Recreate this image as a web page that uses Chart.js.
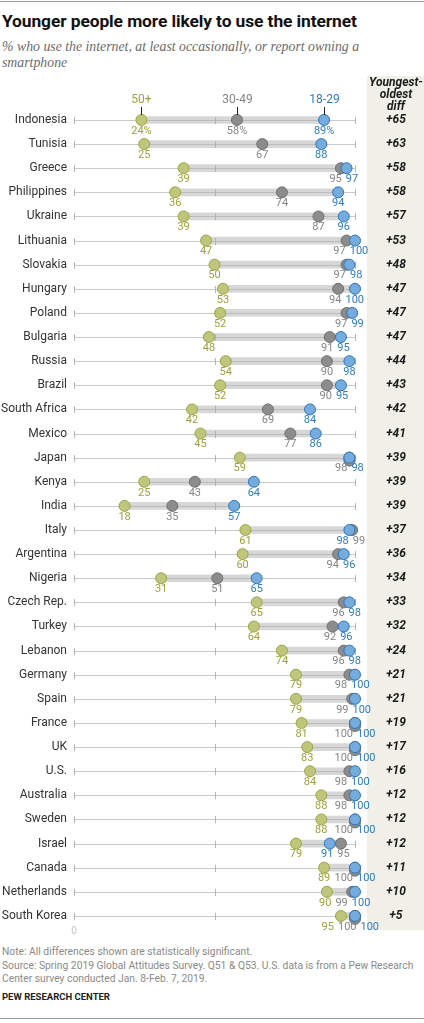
<!DOCTYPE html>
<html>
<head>
<meta charset="utf-8">
<script src="https://cdn.jsdelivr.net/npm/chart.js@4.4.1/dist/chart.umd.min.js"></script>
<style>
  html, body { margin: 0; padding: 0; background: #fff; }
  body { width: 424px; height: 1023px; position: relative; overflow: hidden; font-family: Roboto, "Liberation Sans", sans-serif; }
  .rule { position: absolute; left: 0; width: 424px; height: 1px; background: #9a9a9a; }
  #title { position: absolute; left: 2px; top: 11px; font-size: 17.4px; font-weight: bold; color: #111; white-space: nowrap; letter-spacing: -0.1px; }
  #subtitle { position: absolute; left: 2px; top: 39px; width: 415px; font-family: "Liberation Serif", serif; font-style: italic; font-size: 13.8px; line-height: 16px; color: #6b6b6b; }
  #chartBox { position: absolute; left: 0; top: 75px; width: 424px; height: 870px; }
  #notes { position: absolute; left: 2px; top: 945px; width: 422px; font-size: 10.3px; line-height: 13.5px; color: #8a8a8a; white-space: nowrap; }
  #credit { position: absolute; left: 2px; top: 991px; font-size: 9.5px; font-weight: bold; color: #222; }
</style>
</head>
<body>
<div class="rule" style="top:1px"></div>
<div id="title">Younger people more likely to use the internet</div>
<div id="subtitle">% who use the internet, at least occasionally, or report owning a smartphone</div>
<div id="chartBox"><canvas id="rangos"></canvas></div>
<div id="notes">Note: All differences shown are statistically significant.<br>Source: Spring 2019 Global Attitudes Survey. Q51 &amp; Q53. U.S. data is from a Pew Research<br>Center survey conducted Jan. 8-Feb. 7, 2019.</div>
<div id="credit">PEW RESEARCH CENTER</div>
<div class="rule" style="top:1018px"></div>

<script>
// datos
var paises = ["Indonesia", "Tunisia", "Greece", "Philippines", "Ukraine", "Lithuania", "Slovakia", "Hungary",
    "Poland", "Bulgaria", "Russia", "Brazil", "South Africa", "Mexico", "Japan", "Kenya", "India", "Italy",
    "Argentina", "Nigeria", "Czech Rep.", "Turkey", "Lebanon", "Germany", "Spain", "France", "UK", "U.S.",
    "Australia", "Sweden", "Israel", "Canada", "Netherlands", "South Korea"];
var edad50 = [24, 25, 39, 36, 39, 47, 50, 53, 52, 48, 54, 52, 42, 45, 59, 25, 18, 61, 60, 31, 65, 64, 74, 79, 79, 81, 83, 84, 88, 88, 79, 89, 90, 95];
var edad3049 = [58, 67, 95, 74, 87, 97, 97, 94, 97, 91, 90, 90, 69, 77, 98, 43, 35, 99, 94, 51, 96, 92, 96, 98, 99, 100, 100, 98, 98, 100, 95, 100, 99, 100];
var edad1829 = [89, 88, 97, 94, 96, 100, 98, 100, 99, 95, 98, 95, 84, 86, 98, 64, 57, 98, 96, 65, 98, 96, 98, 100, 100, 100, 100, 100, 100, 100, 91, 100, 100, 100];
var diferencia = [65, 63, 58, 58, 57, 53, 48, 47, 47, 47, 44, 43, 42, 41, 39, 39, 39, 37, 36, 34, 33, 32, 24, 21, 21, 19, 17, 16, 12, 12, 12, 11, 10, 5];
var nombresSerie = ["50+", "30-49", "18-29"];
var ticksX = [0, 50, 100];

var colores = {
    verde: { fill: "#bfc67c", borde: "#9ba443", texto: "#9aa43a" },
    gris: { fill: "#8c8c8c", borde: "#6f6f6f", texto: "#858585" },
    azul: { fill: "#75abdd", borde: "#2b76b7", texto: "#2f7cbf" }
};
var FUENTE = "Roboto, 'Liberation Sans', sans-serif";

var rangos = paises.map(function (p, i) {
    var vals = [edad50[i], edad3049[i], edad1829[i]];
    return [Math.min.apply(null, vals), Math.max.apply(null, vals)];
});

// separa etiquetas que se pisan
function acomodarEtiquetas(items, gap) {
    var grupos = items.map(function (it) { return [it]; });
    var cambio = true;
    function medir(g) {
        var w = 0, c = 0;
        g.forEach(function (it) { w += it.w; c += it.x; });
        w += gap * (g.length - 1);
        c = c / g.length;
        return { left: c - w / 2, right: c + w / 2 };
    }
    while (cambio) {
        cambio = false;
        for (var i = 0; i < grupos.length - 1; i++) {
            var a = medir(grupos[i]), b = medir(grupos[i + 1]);
            if (a.right + gap > b.left) {
                grupos[i] = grupos[i].concat(grupos[i + 1]);
                grupos.splice(i + 1, 1);
                cambio = true;
                break;
            }
        }
    }
    grupos.forEach(function (g) {
        var m = medir(g), pos = m.left;
        g.forEach(function (it) {
            it.px = pos + it.w / 2;
            pos += it.w + gap;
        });
    });
}

var extrasPlugin = {
    id: "extras",
    beforeDraw: function (chart) {
        var ctx = chart.ctx;
        ctx.save();
        ctx.fillStyle = "#f0f0e9";
        ctx.fillRect(367, 1, chart.width - 367, 854);
        ctx.restore();
    },
    beforeDatasetsDraw: function (chart) {
        var ctx = chart.ctx, x = chart.scales.x, y = chart.scales.y;
        ctx.save();
        paises.forEach(function (p, i) {
            var py = Math.round(y.getPixelForValue(i)) + 0.5;
            ctx.strokeStyle = "#c9c9c9";
            ctx.lineWidth = 1;
            ctx.beginPath();
            ctx.moveTo(x.getPixelForValue(0), py);
            ctx.lineTo(x.getPixelForValue(100), py);
            ctx.stroke();
            ctx.strokeStyle = "#b5b5b5";
            ticksX.forEach(function (t) {
                var tx = Math.round(x.getPixelForValue(t)) + 0.5;
                ctx.beginPath();
                ctx.moveTo(tx, py - 3.5);
                ctx.lineTo(tx, py + 3.5);
                ctx.stroke();
            });
        });
        ctx.restore();
    },
    afterDatasetDraw: function (chart, args) {
        // empates gris/azul: el gris asoma un poco abajo
        if (args.index !== 2) return;
        var ctx = chart.ctx, x = chart.scales.x, y = chart.scales.y;
        ctx.save();
        paises.forEach(function (p, i) {
            if (edad3049[i] === edad1829[i]) {
                ctx.beginPath();
                ctx.arc(x.getPixelForValue(edad3049[i]), y.getPixelForValue(i) + 3, 5.5, 0, Math.PI * 2);
                ctx.fillStyle = colores.gris.fill;
                ctx.fill();
                ctx.lineWidth = 1;
                ctx.strokeStyle = colores.gris.borde;
                ctx.stroke();
            }
        });
        ctx.restore();
    },
    afterDatasetsDraw: function (chart) {
        var ctx = chart.ctx, x = chart.scales.x, y = chart.scales.y;
        ctx.save();
        ctx.font = "11px " + FUENTE;
        ctx.textAlign = "center";
        ctx.textBaseline = "middle";
        var series = [
            { datos: edad50, col: colores.verde.texto },
            { datos: edad3049, col: colores.gris.texto },
            { datos: edad1829, col: colores.azul.texto }
        ];
        paises.forEach(function (p, i) {
            var py = y.getPixelForValue(i);
            var items = series.map(function (s, k) {
                var txt = s.datos[i] + (i === 0 ? "%" : "");
                return { v: s.datos[i], k: k, txt: txt, col: s.col, x: x.getPixelForValue(s.datos[i]), w: ctx.measureText(txt).width };
            });
            items.sort(function (a, b) { return a.v - b.v || a.k - b.k; });
            acomodarEtiquetas(items, 4);
            items.forEach(function (it) {
                ctx.fillStyle = it.col;
                ctx.fillText(it.txt, it.px, py + 11);
            });
            ctx.fillStyle = "#1a1a1a";
            ctx.font = "italic bold 12px " + FUENTE;
            ctx.fillText("+" + diferencia[i], 396, py);
            ctx.font = "11px " + FUENTE;
        });

        // leyenda sobre la primera fila
        var y0 = y.getPixelForValue(0);
        var leyenda = [edad50[0], edad3049[0], edad1829[0]];
        var colLey = [colores.verde.texto, colores.gris.texto, colores.azul.texto];
        ctx.font = "12px " + FUENTE;
        leyenda.forEach(function (v, k) {
            var lx = Math.round(x.getPixelForValue(v)) + 0.5;
            ctx.fillStyle = colLey[k];
            ctx.fillText(nombresSerie[k], lx, y0 - 20);
            ctx.strokeStyle = "#222";
            ctx.lineWidth = 1;
            ctx.beginPath();
            ctx.moveTo(lx, y0 - 13);
            ctx.lineTo(lx, y0 - 5);
            ctx.stroke();
        });

        // encabezado de la columna de diferencias
        ctx.fillStyle = "#1a1a1a";
        ctx.font = "italic bold 12px " + FUENTE;
        ["Youngest-", "oldest", "diff"].forEach(function (t, k) {
            ctx.fillText(t, 396, 8 + k * 12);
        });

        // cero del eje
        ctx.fillStyle = "#c4c4c4";
        ctx.font = "10px " + FUENTE;
        ctx.fillText("0", x.getPixelForValue(0), 856);
        ctx.restore();
    }
};

function serie(datos, col, orden) {
    return {
        type: "line",
        indexAxis: "y",
        data: datos,
        showLine: false,
        clip: false,
        pointRadius: 5.5,
        pointHoverRadius: 5.5,
        pointBackgroundColor: col.fill,
        pointBorderColor: col.borde,
        pointBorderWidth: 1,
        order: orden
    };
}

var grafico = new Chart(document.getElementById("rangos"), {
    type: "bar",
    data: {
        labels: paises,
        datasets: [
            {
                data: rangos,
                backgroundColor: "rgba(175,175,175,0.5)",
                barThickness: 7,
                borderSkipped: false,
                order: 4
            },
            serie(edad50, colores.verde, 3),
            serie(edad3049, colores.gris, 2),
            serie(edad1829, colores.azul, 1)
        ]
    },
    options: {
        indexAxis: "y",
        responsive: true,
        maintainAspectRatio: false,
        animation: false,
        events: [],
        layout: { padding: { top: 32.9, bottom: 17, left: 0, right: 69 } },
        plugins: { legend: { display: false }, tooltip: { enabled: false } },
        scales: {
            x: { type: "linear", min: 0, max: 100, display: false },
            y: {
                type: "category",
                offset: true,
                grid: { display: false, drawTicks: false },
                border: { display: false },
                ticks: { color: "#333", padding: 7, font: { family: FUENTE, size: 12 } },
                afterFit: function (s) { s.width = 74; }
            }
        }
    },
    plugins: [extrasPlugin]
});
</script>
</body>
</html>
